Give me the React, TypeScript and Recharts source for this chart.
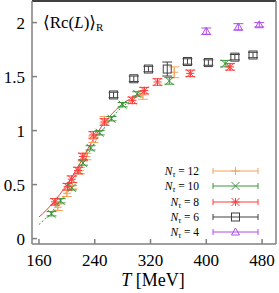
import React from "react";
import { ComposedChart, Scatter, Line, XAxis, YAxis, ErrorBar } from "recharts";

const xTicks = [160, 240, 320, 400, 480];
const yTicks = [0, 0.5, 1, 1.5, 2];

// N_tau = 12
const n12T = [187, 200, 208, 219, 228, 238, 254, 309, 354];
const n12V = [0.29, 0.42, 0.49, 0.63, 0.76, 0.92, 1.1, 1.33, 1.54];
const n12E = [0.03, 0.03, 0.03, 0.03, 0.03, 0.03, 0.03, 0.04, 0.05];

// N_tau = 10
const n10T = [178, 191, 207, 223, 234, 247, 264, 280, 301, 347, 427];
const n10V = [0.23, 0.35, 0.47, 0.7, 0.84, 0.98, 1.11, 1.24, 1.34, 1.46, 1.62];
const n10E = [0.02, 0.02, 0.02, 0.02, 0.02, 0.02, 0.02, 0.02, 0.02, 0.03, 0.03];

// N_tau = 8
const n8T = [183, 201, 207, 216, 223, 238, 254, 294, 311, 330, 377, 434];
const n8V = [0.34, 0.48, 0.55, 0.63, 0.76, 0.96, 1.08, 1.28, 1.37, 1.45, 1.53, 1.59];
const n8E = [0.03, 0.03, 0.03, 0.03, 0.03, 0.03, 0.03, 0.03, 0.03, 0.03, 0.03, 0.03];

// N_tau = 6
const n6T = [267, 296, 317, 344, 373, 403, 441, 467];
const n6V = [1.33, 1.48, 1.57, 1.57, 1.64, 1.63, 1.68, 1.7];
const n6E = [0.025, 0.025, 0.025, 0.065, 0.025, 0.025, 0.025, 0.025];

// N_tau = 4
const n4T = [400, 446, 476];
const n4V = [1.92, 1.96, 1.98];
const n4E = [0.03, 0.03, 0.02];

// fit curves
const fit8T = [160, 170, 180, 190, 200, 210, 220, 230, 240, 250, 260, 270, 280, 290, 300, 305];
const fit8V = [0.2, 0.26, 0.33, 0.41, 0.5, 0.6, 0.71, 0.83, 0.94, 1.04, 1.12, 1.19, 1.25, 1.29, 1.33, 1.34];
const fit10T = [160, 170, 180, 190, 200, 210, 220, 230, 240, 250, 260, 270, 280, 290, 300, 305];
const fit10V = [0.13, 0.19, 0.26, 0.35, 0.44, 0.54, 0.66, 0.78, 0.89, 0.99, 1.08, 1.16, 1.22, 1.27, 1.31, 1.32];

const rows = (t: number[], v: number[], e?: number[]) =>
  t.map((T, i) => ({ T, v: v[i], err: e ? e[i] : 0 }));

const FONT = "Liberation Serif, DejaVu Serif, serif";
const C12 = "#f4a25c";
const C10 = "#3a963a";
const C8 = "#ff3a3a";
const C6 = "#404040";
const C4 = "#b04ce8";
const GREY = "#808080";

function Marker({ kind, cx, cy, color }: { kind: string; cx: number; cy: number; color: string }) {
  const s = 4;
  if (kind === "plus")
    return (
      <g stroke={color} strokeWidth={1}>
        <line x1={cx - s} y1={cy} x2={cx + s} y2={cy} />
        <line x1={cx} y1={cy - s} x2={cx} y2={cy + s} />
      </g>
    );
  if (kind === "cross")
    return (
      <g stroke={color} strokeWidth={1}>
        <line x1={cx - s} y1={cy - s} x2={cx + s} y2={cy + s} />
        <line x1={cx - s} y1={cy + s} x2={cx + s} y2={cy - s} />
      </g>
    );
  if (kind === "star")
    return (
      <g stroke={color} strokeWidth={1}>
        <line x1={cx - s} y1={cy - s} x2={cx + s} y2={cy + s} />
        <line x1={cx - s} y1={cy + s} x2={cx + s} y2={cy - s} />
        <line x1={cx - s} y1={cy} x2={cx + s} y2={cy} />
        <line x1={cx} y1={cy - s} x2={cx} y2={cy + s} />
      </g>
    );
  if (kind === "square")
    return <rect x={cx - s} y={cy - s} width={2 * s} height={2 * s} fill="none" stroke={color} strokeWidth={1} />;
  return (
    <polygon
      points={`${cx},${cy - s} ${cx - s},${cy + s * 0.75} ${cx + s},${cy + s * 0.75}`}
      fill="none"
      stroke={color}
      strokeWidth={1}
    />
  );
}

const txt = { fontFamily: FONT };

const XTick = (p: any) => (
  <text x={p.x} y={p.y + 27} textAnchor="middle" fontSize={17} style={txt} fill="#000">
    {p.payload.value}
  </text>
);

const YTick = (p: any) => (
  <text x={p.x - 12} y={p.y + 6} textAnchor="end" fontSize={17} style={txt} fill="#000">
    {p.payload.value}
  </text>
);

const series = [
  { label: "12", data: rows(n12T, n12V, n12E), kind: "plus", color: C12 },
  { label: "10", data: rows(n10T, n10V, n10E), kind: "cross", color: C10 },
  { label: "8", data: rows(n8T, n8V, n8E), kind: "star", color: C8 },
  { label: "6", data: rows(n6T, n6V, n6E), kind: "square", color: C6 },
  { label: "4", data: rows(n4T, n4V, n4E), kind: "triangle", color: C4 },
];

const legendY = [171, 186, 202, 217, 232];

export default function App() {
  return (
    <div style={{ position: "absolute", left: 0, top: 0, width: 279, height: 293, background: "#fff" }}>
      <ComposedChart width={279} height={293} margin={{ top: 1, right: 3, left: 0, bottom: 0 }}>
        <XAxis
          xAxisId="b"
          dataKey="T"
          type="number"
          domain={[150, 500]}
          allowDataOverflow
          ticks={xTicks}
          height={49}
          stroke={GREY}
          strokeWidth={1.5}
          tickSize={-5}
          tickMargin={0}
          tick={XTick}
        />
        <XAxis
          xAxisId="t"
          orientation="top"
          type="number"
          domain={[150, 500]}
          allowDataOverflow
          ticks={xTicks}
          mirror
          stroke="#000"
          strokeWidth={1.5}
          tickSize={5}
          tick={false}
        />
        <YAxis
          yAxisId="l"
          dataKey="v"
          type="number"
          domain={[-0.05, 2.2]}
          allowDataOverflow
          ticks={yTicks}
          width={32}
          stroke={GREY}
          strokeWidth={1.5}
          tickSize={-5}
          tickMargin={0}
          tick={YTick}
        />
        <YAxis
          yAxisId="r"
          orientation="right"
          type="number"
          domain={[-0.05, 2.2]}
          allowDataOverflow
          ticks={yTicks}
          mirror
          width={10}
          stroke={GREY}
          strokeWidth={1.5}
          tickSize={5}
          tick={false}
        />
        <Line
          xAxisId="b"
          yAxisId="l"
          data={rows(fit8T, fit8V)}
          dataKey="v"
          type="monotone"
          stroke={C8}
          strokeWidth={1}
          dot={false}
          isAnimationActive={false}
        />
        <Line
          xAxisId="b"
          yAxisId="l"
          data={rows(fit10T, fit10V)}
          dataKey="v"
          type="monotone"
          stroke={C10}
          strokeWidth={1}
          strokeDasharray="2 2"
          dot={false}
          isAnimationActive={false}
        />
        {series.map((s) => (
          <Scatter
            key={s.label}
            xAxisId="b"
            yAxisId="l"
            data={s.data}
            dataKey="v"
            isAnimationActive={false}
            shape={(p: any) => <Marker kind={s.kind} cx={p.cx} cy={p.cy} color={s.color} />}
          >
            <ErrorBar dataKey="err" direction="y" width={5} stroke={s.color} strokeWidth={1} />
          </Scatter>
        ))}
      </ComposedChart>
      <svg
        width={279}
        height={293}
        style={{ position: "absolute", left: 0, top: 0, pointerEvents: "none" }}
      >
        <text x={43} y={28} fontSize={17} style={txt} fill="#000">
          {"⟨Rc("}
          <tspan fontStyle="italic">L</tspan>
          {")⟩"}
          <tspan fontSize={11} dy={3}>R</tspan>
        </text>
        {series.map((s, i) => {
          const y = legendY[i];
          return (
            <g key={s.label}>
              <text x={199} y={y + 4} textAnchor="end" fontSize={11.5} style={txt} fill="#000">
                <tspan fontStyle="italic">N</tspan>
                <tspan fontStyle="italic" fontSize={8} dy={2}>τ</tspan>
                <tspan dy={-2}>{` = ${s.label}`}</tspan>
              </text>
              <g stroke={s.color} strokeWidth={1}>
                <line x1={213} y1={y} x2={258} y2={y} />
                <line x1={213} y1={y - 3} x2={213} y2={y + 3} />
                <line x1={258} y1={y - 3} x2={258} y2={y + 3} />
              </g>
              <Marker kind={s.kind} cx={235.5} cy={y} color={s.color} />
            </g>
          );
        })}
        <text x={153} y={286} textAnchor="middle" fontSize={18} style={txt} fill="#000">
          <tspan fontStyle="italic">T</tspan>
          {" [MeV]"}
        </text>
      </svg>
    </div>
  );
}
